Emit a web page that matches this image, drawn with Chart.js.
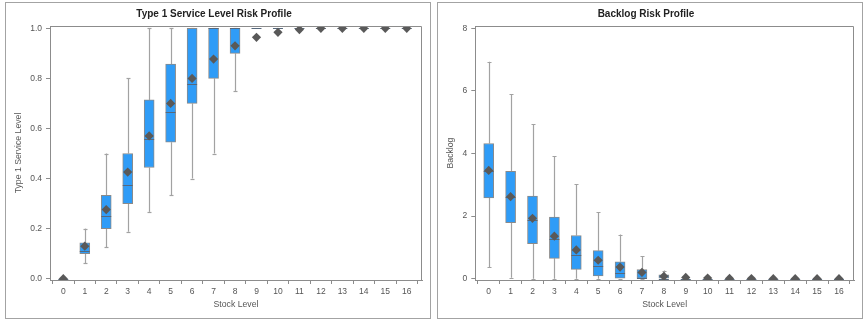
<!DOCTYPE html>
<html lang="en">
<head>
<meta charset="UTF-8">
<title>Risk Profiles</title>
<script src="https://cdn.jsdelivr.net/npm/chart.js"></script>
<style>
  body {
    margin: 0;
    background: #fff;
    width: 867px;
    height: 323px;
    overflow: hidden;
    position: relative;
  }
  .panel {
    position: absolute;
    top: 2px;
    width: 426px;
    height: 317px;
    box-sizing: border-box;
    border: 1px solid #a3a3a3;
    background: #fff;
  }
  #leftPanel { left: 5px; }
  #rightPanel { left: 437px; }
  canvas { display: block; }
</style>
</head>
<body>
<div class="panel" id="leftPanel"><canvas id="serviceChart" width="424" height="315"></canvas></div>
<div class="panel" id="rightPanel"><canvas id="backlogChart" width="424" height="315"></canvas></div>

<script>
  // stock levels on the x axis
  const stockLevels = [0, 1, 2, 3, 4, 5, 6, 7, 8, 9, 10, 11, 12, 13, 14, 15, 16];

  // Type 1 service level box stats
  const svcLow  = [0, 0.0625, 0.125, 0.1875, 0.267, 0.333, 0.4, 0.5, 0.75, 1, 1, 1, 1, 1, 1, 1, 1];
  const svcQ1   = [0, 0.1, 0.2, 0.3, 0.444, 0.545, 0.7, 0.8, 0.9, 1, 1, 1, 1, 1, 1, 1, 1];
  const svcMed  = [0, 0.111, 0.25, 0.375, 0.556, 0.667, 0.778, 1, 1, 1, 1, 1, 1, 1, 1, 1, 1];
  const svcQ3   = [0, 0.143, 0.333, 0.5, 0.714, 0.857, 1, 1, 1, 1, 1, 1, 1, 1, 1, 1, 1];
  const svcHigh = [0, 0.2, 0.5, 0.8, 1, 1, 1, 1, 1, 1, 1, 1, 1, 1, 1, 1, 1];
  const svcMean = [0, 0.13, 0.276, 0.426, 0.57, 0.70, 0.80, 0.877, 0.93, 0.964, 0.984, 0.995, 1, 1, 1, 1, 1];
  const svcTicks = [0, 0.2, 0.4, 0.6, 0.8, 1.0];

  // backlog box stats
  const blLow  = [0.36, 0.03, 0, 0, 0, 0, 0, 0, 0, 0, 0, 0, 0, 0, 0, 0, 0];
  const blQ1   = [2.58, 1.79, 1.12, 0.65, 0.30, 0.085, 0, 0, 0, 0, 0, 0, 0, 0, 0, 0, 0];
  const blMed  = [3.45, 2.6, 1.87, 1.26, 0.76, 0.42, 0.17, 0.03, 0, 0, 0, 0, 0, 0, 0, 0, 0];
  const blQ3   = [4.32, 3.43, 2.64, 1.97, 1.38, 0.895, 0.54, 0.29, 0.12, 0, 0, 0, 0, 0, 0, 0, 0];
  const blHigh = [6.93, 5.89, 4.93, 3.92, 3.01, 2.13, 1.41, 0.71, 0.26, 0.08, 0, 0, 0, 0, 0, 0, 0];
  const blMean = [3.46, 2.62, 1.93, 1.36, 0.92, 0.59, 0.37, 0.2, 0.075, 0.04, 0.02, 0.01, 0.005, 0, 0, 0, 0];
  const blTicks = [0, 2, 4, 6, 8];

  Chart.defaults.font.family = "'Liberation Sans', Arial, sans-serif";
  Chart.defaults.color = '#555';

  const axisColor = '#8c8c8c';

  function boxChart(id, s) {
    // whiskers, caps, medians and the plot frame
    const boxPlugin = {
      id: 'boxParts',
      beforeDatasetsDraw(chart) {
        const { ctx, chartArea: a, scales: { x, y } } = chart;
        ctx.save();
        ctx.beginPath();
        ctx.rect(a.left, a.top, a.width, a.height);
        ctx.clip();
        ctx.strokeStyle = '#a2a2a2';
        ctx.lineWidth = 1.2;
        stockLevels.forEach((lv, i) => {
          const px = Math.round(x.getPixelForValue(lv)) + 0.5;
          const pairs = [[s.low[i], s.q1[i]], [s.q3[i], s.high[i]]];
          pairs.forEach(([from, to]) => {
            if (from === to) return;
            ctx.beginPath();
            ctx.moveTo(px, y.getPixelForValue(from));
            ctx.lineTo(px, y.getPixelForValue(to));
            ctx.stroke();
          });
          [s.low[i], s.high[i]].forEach(v => {
            if (s.low[i] === s.high[i]) return;
            const py = Math.round(y.getPixelForValue(v)) + 0.5;
            ctx.beginPath();
            ctx.moveTo(px - 2, py);
            ctx.lineTo(px + 2, py);
            ctx.stroke();
          });
        });
        ctx.restore();
      },
      afterDatasetDraw(chart, args) {
        if (args.meta.type !== 'bar') return;
        const { ctx, chartArea: a, scales: { x, y } } = chart;
        ctx.save();
        ctx.beginPath();
        ctx.rect(a.left, a.top - 1, a.width, a.height + 1);
        ctx.clip();
        ctx.strokeStyle = '#56687c';
        ctx.lineWidth = 1;
        stockLevels.forEach((lv, i) => {
          const px = x.getPixelForValue(lv);
          const py = Math.round(y.getPixelForValue(s.med[i])) + 0.5;
          ctx.beginPath();
          ctx.moveTo(px - 5, py);
          ctx.lineTo(px + 5, py);
          ctx.stroke();
        });
        ctx.restore();
      },
      afterDraw(chart) {
        const { ctx, chartArea: a } = chart;
        ctx.save();
        ctx.strokeStyle = axisColor;
        ctx.lineWidth = 1;
        const t = Math.round(a.top) + 0.5, r = Math.round(a.right) - 0.5;
        ctx.beginPath();
        ctx.moveTo(a.left, t);
        ctx.lineTo(r, t);
        ctx.lineTo(r, a.bottom);
        ctx.stroke();
        ctx.restore();
      }
    };

    return new Chart(document.getElementById(id), {
      type: 'bar',
      data: {
        datasets: [
          {
            type: 'line',
            label: 'Mean',
            data: stockLevels.map((lv, i) => ({ x: lv, y: s.mean[i] })),
            showLine: false,
            pointStyle: 'rectRot',
            pointRadius: 4.6,
            pointBackgroundColor: '#595959',
            pointBorderWidth: 0,
            order: 1
          },
          {
            type: 'bar',
            label: 'Box',
            data: stockLevels.map((lv, i) => ({ x: lv, y: [s.q1[i], s.q3[i]] })),
            backgroundColor: '#2f9cf7',
            borderColor: '#8a8a8a',
            borderWidth: 1,
            borderSkipped: false,
            barThickness: 10,
            order: 2
          }
        ]
      },
      options: {
        responsive: false,
        animation: false,
        layout: { padding: { left: 0, right: 8, top: 0, bottom: 0 } },
        plugins: {
          legend: { display: false },
          tooltip: { enabled: false },
          title: {
            display: true,
            text: s.title,
            color: '#222',
            font: { size: 10, weight: 'bold' },
            padding: { top: 5, bottom: 6 }
          }
        },
        scales: {
          x: {
            type: 'linear',
            offset: false,
            min: s.xMin,
            max: s.xMax,
            afterBuildTicks: sc => { sc.ticks = stockLevels.map(v => ({ value: v })); },
            afterFit: sc => { sc.height = 38; },
            ticks: { font: { size: 8.5 }, padding: 3, maxRotation: 0, autoSkip: false, callback: v => String(v) },
            grid: { drawOnChartArea: false, drawTicks: true, tickLength: 4, color: axisColor },
            border: { color: axisColor },
            title: { display: true, text: 'Stock Level', font: { size: 8.7 }, padding: { top: 2, bottom: 7.8 } }
          },
          y: {
            min: s.yMin,
            max: s.yMax,
            afterBuildTicks: sc => { sc.ticks = s.ticks.map(v => ({ value: v })); },
            afterFit: sc => { sc.width = s.yWidth; },
            ticks: { font: { size: 8.5 }, padding: 4, callback: s.fmt },
            grid: { drawOnChartArea: false, drawTicks: true, tickLength: 4, color: axisColor },
            border: { color: axisColor },
            title: { display: true, text: s.yTitle, font: { size: 8.7 }, padding: { top: 7, bottom: 2 } }
          }
        }
      },
      plugins: [boxPlugin]
    });
  }

  boxChart('serviceChart', {
    title: 'Type 1 Service Level Risk Profile',
    yTitle: 'Type 1 Service Level',
    low: svcLow, q1: svcQ1, med: svcMed, q3: svcQ3, high: svcHigh, mean: svcMean,
    ticks: svcTicks,
    fmt: v => v.toFixed(1),
    yMin: -0.0052, yMax: 1.0092,
    xMin: -0.62, xMax: 16.71,
    yWidth: 44
  });

  boxChart('backlogChart', {
    title: 'Backlog Risk Profile',
    yTitle: 'Backlog',
    low: blLow, q1: blQ1, med: blMed, q3: blQ3, high: blHigh, mean: blMean,
    ticks: blTicks,
    fmt: v => String(v),
    yMin: -0.0415, yMax: 8.0735,
    xMin: -0.613, xMax: 16.686,
    yWidth: 37.3
  });
</script>
</body>
</html>
